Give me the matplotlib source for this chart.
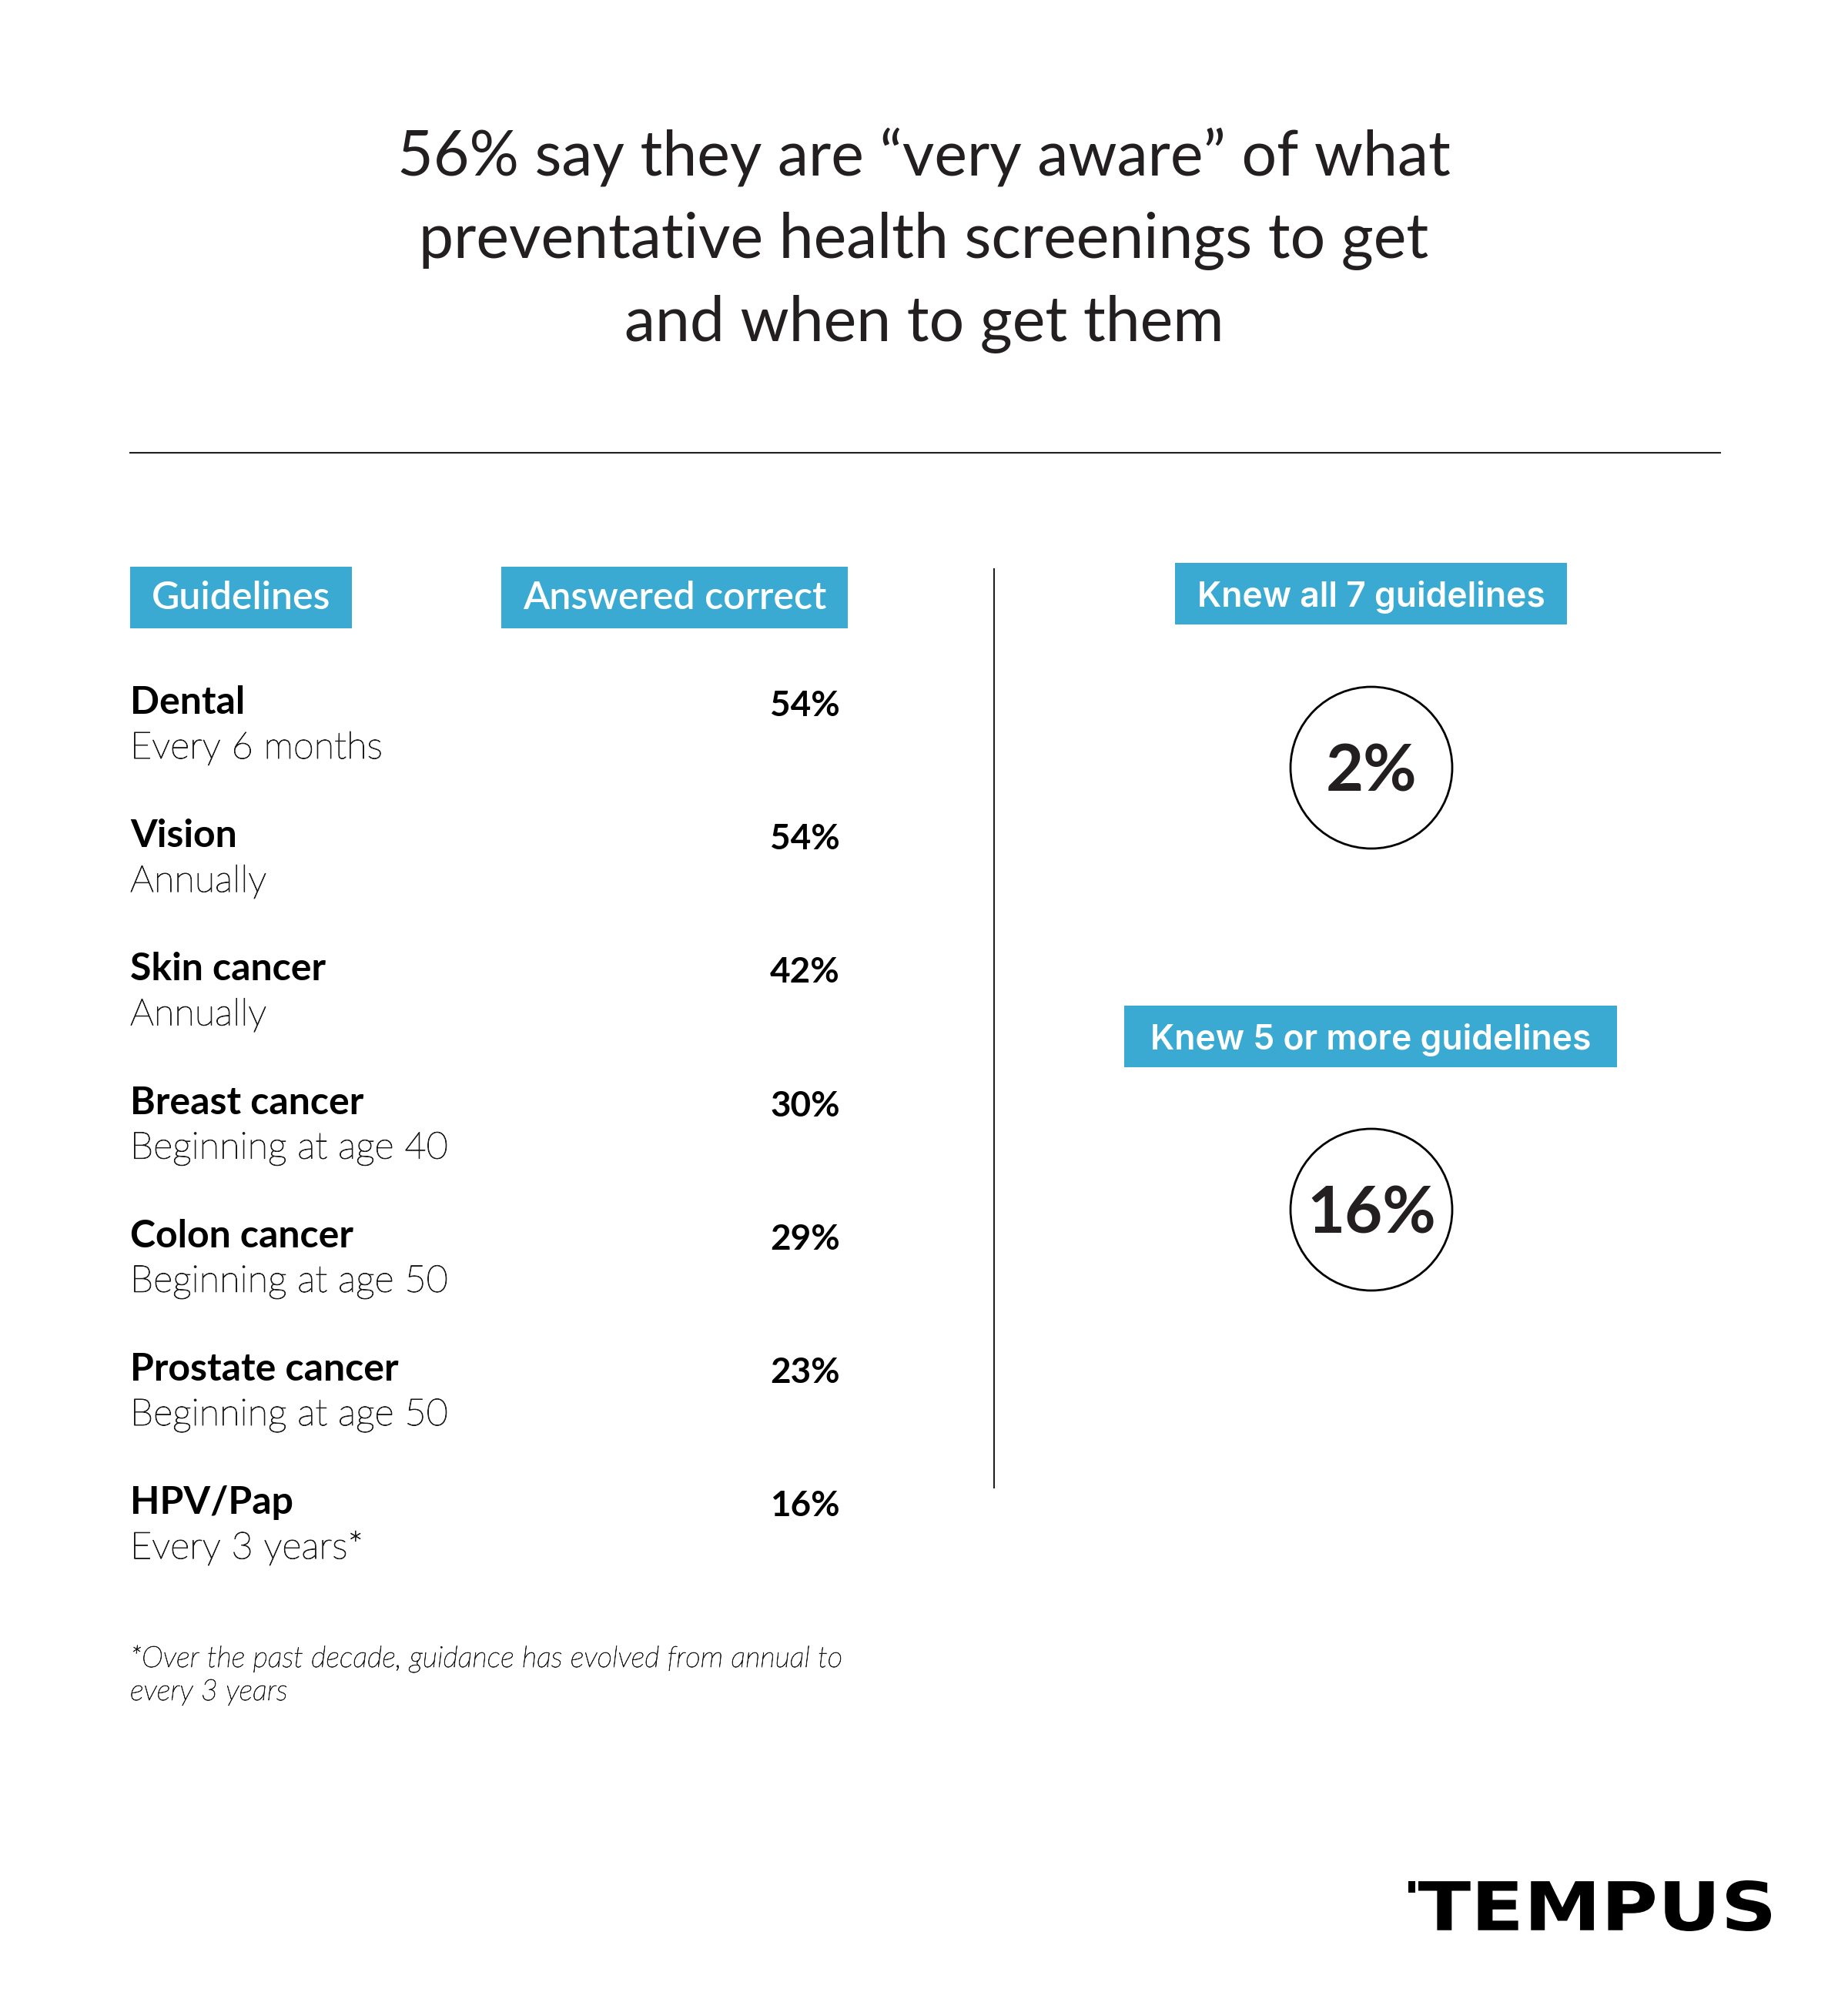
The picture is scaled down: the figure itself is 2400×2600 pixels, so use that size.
import matplotlib
matplotlib.use("Agg")
import matplotlib.pyplot as plt
import matplotlib.patheffects as pe
from matplotlib.patches import Rectangle, Circle, PathPatch
from matplotlib.textpath import TextPath
from matplotlib.font_manager import FontProperties
from matplotlib.transforms import Affine2D

# ---- data -------------------------------------------------------------
TITLE_LINES = [
    "56% say they are \u201cvery aware\u201d of what",
    "preventative health screenings to get",
    "and when to get them",
]
GUIDELINES = ["Dental", "Vision", "Skin cancer", "Breast cancer",
              "Colon cancer", "Prostate cancer", "HPV/Pap"]
FREQUENCY = ["Every 6 months", "Annually", "Annually", "Beginning at age 40",
             "Beginning at age 50", "Beginning at age 50", "Every 3 years*"]
PCT_CORRECT = [54, 54, 42, 30, 29, 23, 16]
HEADERS = ["Guidelines", "Answered correct"]
SUMMARY_LABELS = ["Knew all 7 guidelines", "Knew 5 or more guidelines"]
SUMMARY_PCT = [2, 16]
FOOTNOTE = ["*Over the past decade, guidance has evolved from annual to",
            "every 3 years"]

BLUE = "#3aaad2"
INK = "#231f20"
FONT = "Lato"
# light text, thickened a touch so it reads darker
THIN = [pe.withStroke(linewidth=0.7, foreground="#1a1a1a")]

# canvas in pixel units, y grows downward
fig = plt.figure(figsize=(24, 26), dpi=100)
ax = fig.add_axes([0, 0, 1, 1])
ax.set_xlim(0, 2400)
ax.set_ylim(2600, 0)
ax.axis("off")

# title
for i, line in enumerate(TITLE_LINES):
    ax.text(1200, 227 + i * 108, line, ha="center", va="baseline",
            fontsize=58, family=FONT, color=INK)

ax.plot([169, 2234], [588, 588], color=INK, lw=1.5)
ax.plot([1291, 1291], [739, 1932], color=INK, lw=1.5)

# column headers
for (x0, x1), label in zip([(169, 457), (651, 1101)], HEADERS):
    ax.add_patch(Rectangle((x0, 736), x1 - x0, 80, color=BLUE, lw=0))
    ax.text((x0 + x1) / 2, 791, label, ha="center", va="baseline",
            fontsize=36, family=FONT, fontweight="semibold", color="white")

# rows
row_gap = 173.2
for i, (name, freq, pct) in enumerate(zip(GUIDELINES, FREQUENCY, PCT_CORRECT)):
    yb = 927 + i * row_gap
    ax.text(169, yb, name, ha="left", va="baseline", fontsize=36,
            family=FONT, fontweight="bold", color="black")
    ax.text(169, yb + 58, freq, ha="left", va="baseline", fontsize=35,
            family=FONT, fontweight="light", color="#1a1a1a",
            path_effects=THIN)
    ax.text(1091, yb + 3, f"{pct}%", ha="right", va="baseline", fontsize=33,
            family=FONT, fontweight="bold", color="black")

# summary boxes + circles
box_spans = [(1526, 2035, 731), (1460, 2100, 1306)]
circle_y = [997, 1571]
for (x0, x1, yt), label, pct, cy in zip(box_spans, SUMMARY_LABELS,
                                        SUMMARY_PCT, circle_y):
    ax.add_patch(Rectangle((x0, yt), x1 - x0, 80, color=BLUE, lw=0))
    ax.text((x0 + x1) / 2, yt + 57, label, ha="center", va="baseline",
            fontsize=32, family="Inter", fontweight="semibold", color="white")
    ax.add_patch(Circle((1781, cy), 105, fill=False, ec="black", lw=2))
    ax.text(1781, cy + 31, f"{pct}%", ha="center", va="baseline",
            fontsize=61, family=FONT, fontweight="bold", color=INK)

# footnote
for i, line in enumerate(FOOTNOTE):
    ax.text(169, 2165 + i * 43, line, ha="left", va="baseline", fontsize=27.5,
            family=FONT, fontweight="light", style="italic", color="#1a1a1a",
            path_effects=[pe.withStroke(linewidth=0.5, foreground="#1a1a1a")])

# logo: stretch word to its box
tp = TextPath((0, 0), "TEMPUS", prop=FontProperties(family="DejaVu Sans",
                                                      weight="bold"))
bb = tp.get_extents()
lx0, lx1, ltop, lbot = 1842, 2300, 2442, 2508
sx = (lx1 - lx0) / bb.width
sy = (lbot - ltop) / bb.height
tr = Affine2D().translate(-bb.x0, -bb.y0).scale(sx, -sy).translate(lx0, lbot)
ax.add_patch(PathPatch(tr.transform_path(tp), color="black", lw=0))
ax.add_patch(Rectangle((1829, 2443), 9, 15, color="black", lw=0))

fig.savefig("out.png", dpi=100, facecolor="white")
